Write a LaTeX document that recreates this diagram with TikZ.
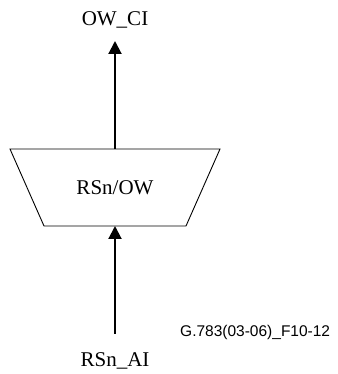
\documentclass[tikz,border=0pt]{standalone}
\usepackage{fontspec}
\setmainfont{Liberation Serif}
\newfontfamily\figfont{Liberation Sans}
\usetikzlibrary{arrows.meta}

\begin{document}
\begin{tikzpicture}[
    x=1pt, y=1pt,
    lbl/.style={font=\fontsize{21}{24}\selectfont, inner sep=0pt, anchor=base},
    sig/.style={-{Triangle[width=13pt,length=13pt]}, line width=2pt}
]
\useasboundingbox (0,0) rectangle (337,374);
% function block
\draw[line width=0.9pt] (10,225) -- (220,225) -- (186,148) -- (44,148) -- cycle;
\node[lbl] (rsow) at (115,179) {RSn/OW};
\coordinate (blktop) at (115,225);
\coordinate (blkbot) at (115,148);
% access points
\node[lbl] (owci) at (115,348) {OW\_CI};
\node[lbl] (rsai) at (115,7) {RSn\_AI};
\coordinate (citip) at (115,333);
\coordinate (aistart) at (115,40);
\draw[sig] (blktop)--(citip);
\draw[sig] (aistart)--(blkbot);
\node[font=\figfont\fontsize{15.5}{18}\selectfont, inner sep=0pt, anchor=base west] (figid) at (180,37) {G.783(03-06)\_F10-12};
\end{tikzpicture}
\end{document}
